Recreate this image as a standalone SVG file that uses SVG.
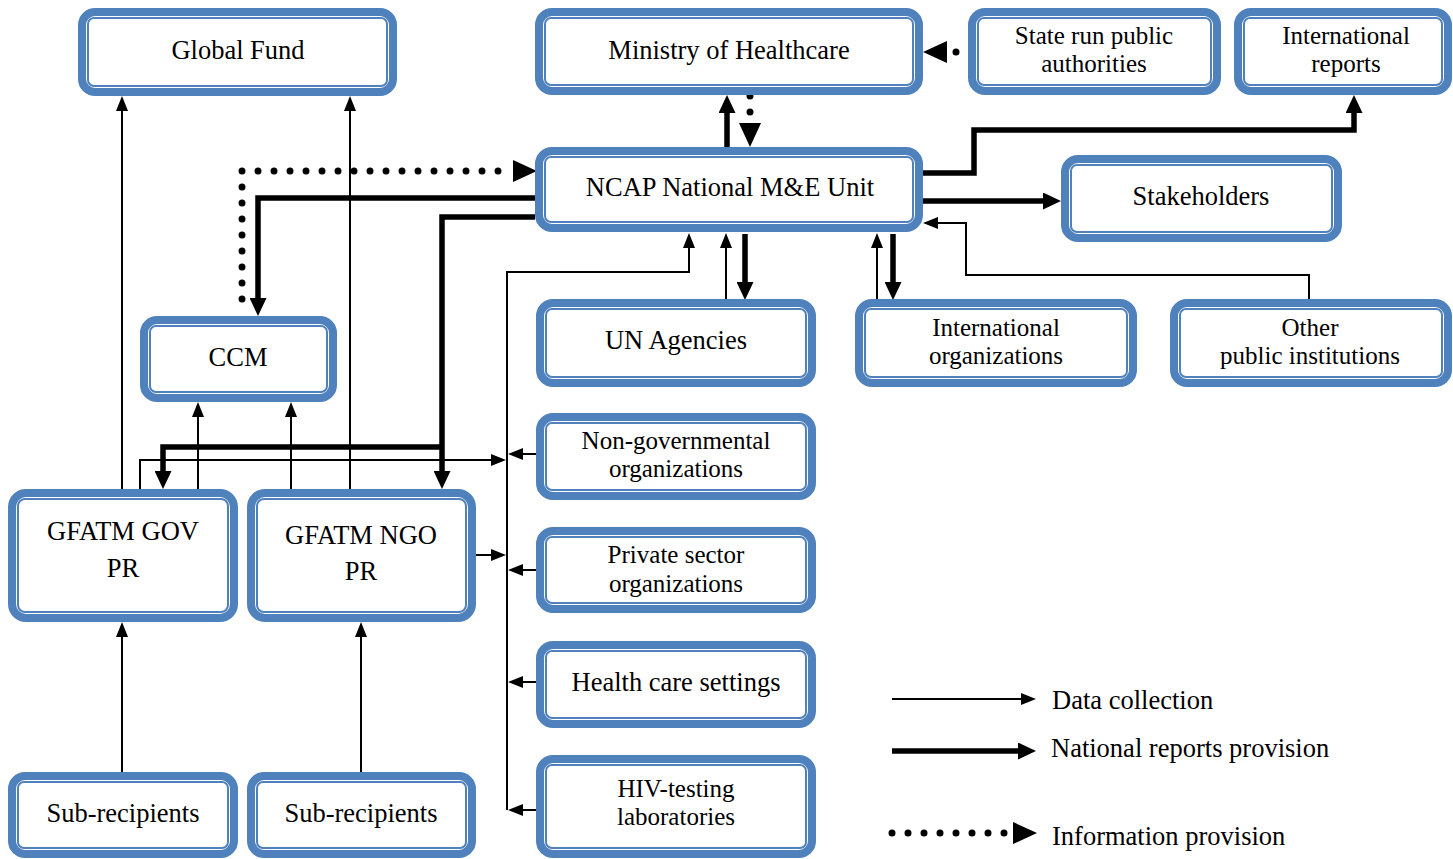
<svg xmlns="http://www.w3.org/2000/svg" width="1453" height="859" viewBox="0 0 1453 859">
<style>
.ob{fill:#fff;stroke:#4F81BD;stroke-width:8}
.ib{fill:none;stroke:#4F81BD;stroke-width:2}
text{font-family:"Liberation Serif","Times New Roman",serif;font-size:26.5px;fill:#000;text-anchor:middle}
text.two{font-size:25px}
.lg{text-anchor:start}
.thin{fill:none;stroke:#000;stroke-width:2;marker-end:url(#aThin)}
.thick{fill:none;stroke:#000;stroke-width:5.5;marker-end:url(#aThick)}
.dot{fill:none;stroke:#000;stroke-width:7;stroke-dasharray:0 16;stroke-linecap:round;marker-end:url(#aDot)}
</style>
<defs>
<marker id="aThin" markerUnits="userSpaceOnUse" markerWidth="15" markerHeight="12" refX="0" refY="6" orient="auto"><path d="M0,0 L15,6 L0,12 z" fill="#000"/></marker>
<marker id="aThick" markerUnits="userSpaceOnUse" markerWidth="18" markerHeight="17" refX="0" refY="8.5" orient="auto"><path d="M0,0 L18,8.5 L0,17 z" fill="#000"/></marker>
<marker id="aDot" markerUnits="userSpaceOnUse" markerWidth="24" markerHeight="22" refX="0" refY="11" orient="auto"><path d="M0,0 L24,11 L0,22 z" fill="#000"/></marker>
</defs>
<rect width="1453" height="859" fill="#fff"/>

<g id="connectors">
<path class="thin" d="M122 489 V111"/>
<path class="thin" d="M350 489 V111"/>
<path class="thin" d="M198 489 V417"/>
<path class="thin" d="M291 489 V417"/>
<path class="thin" d="M140 489 V460 H491"/>
<path class="thin" d="M507 810 V272 H689 V248"/>
<path class="thin" d="M536 454 H523"/>
<path class="thin" d="M536 570 H523"/>
<path class="thin" d="M536 682 H523"/>
<path class="thin" d="M536 810 H523"/>
<path class="thin" d="M476 555 H491"/>
<path class="thin" d="M726 299 V248"/>
<path class="thin" d="M877 299 V248"/>
<path class="thin" d="M1309 299 V275 H966 V223 H938"/>
<path class="thin" d="M122 772 V637"/>
<path class="thin" d="M361 772 V637"/>

<path class="thick" d="M727 147 V113"/>
<path class="thick" d="M535 198 H258 V298"/>
<path class="thick" d="M535 217 H442 V471"/>
<path class="thick" d="M442 447 H163 V471"/>
<path class="thick" d="M923 201 H1043"/>
<path class="thick" d="M923 173 H974 V130 H1354 V113"/>
<path class="thick" d="M745 234 V282"/>
<path class="thick" d="M893 234 V282"/>

<path class="dot" d="M242 299 V171 H513"/>
<path class="dot" d="M750 96 V123"/>
<path class="dot" d="M956 52 H947"/>
</g>

<g id="n-globalfund"><rect class="ob" x="82" y="12" width="311" height="80" rx="13"/><rect class="ib" x="88" y="18" width="299" height="68" rx="6"/><text x="238" y="59">Global Fund</text></g>
<g id="n-ministry"><rect class="ob" x="539" y="12" width="380" height="79" rx="13"/><rect class="ib" x="545" y="18" width="368" height="67" rx="6"/><text x="729" y="59">Ministry of Healthcare</text></g>
<g id="n-state"><rect class="ob" x="972" y="12" width="245" height="79" rx="13"/><rect class="ib" x="978" y="18" width="233" height="67" rx="6"/><text class="two" x="1094" y="44">State run public<tspan x="1094" dy="28">authorities</tspan></text></g>
<g id="n-intreports"><rect class="ob" x="1238" y="12" width="210" height="79" rx="13"/><rect class="ib" x="1244" y="18" width="198" height="67" rx="6"/><text class="two" x="1346" y="44">International<tspan x="1346" dy="28">reports</tspan></text></g>
<g id="n-ncap"><rect class="ob" x="539" y="151" width="380" height="77" rx="13"/><rect class="ib" x="545" y="157" width="368" height="65" rx="6"/><text x="730" y="196">NCAP National M&amp;E Unit</text></g>
<g id="n-stakeholders"><rect class="ob" x="1065" y="159" width="273" height="79" rx="13"/><rect class="ib" x="1071" y="165" width="261" height="67" rx="6"/><text x="1201" y="205">Stakeholders</text></g>
<g id="n-ccm"><rect class="ob" x="144" y="320" width="189" height="78" rx="13"/><rect class="ib" x="150" y="326" width="177" height="66" rx="6"/><text x="238" y="366">CCM</text></g>
<g id="n-un"><rect class="ob" x="540" y="303" width="272" height="80" rx="13"/><rect class="ib" x="546" y="309" width="260" height="68" rx="6"/><text x="676" y="349">UN Agencies</text></g>
<g id="n-intorgs"><rect class="ob" x="859" y="303" width="274" height="80" rx="13"/><rect class="ib" x="865" y="309" width="262" height="68" rx="6"/><text class="two" x="996" y="336">International<tspan x="996" dy="28">organizations</tspan></text></g>
<g id="n-otherpublic"><rect class="ob" x="1174" y="303" width="274" height="80" rx="13"/><rect class="ib" x="1180" y="309" width="262" height="68" rx="6"/><text class="two" x="1310" y="336">Other<tspan x="1310" dy="28">public institutions</tspan></text></g>
<g id="n-ngos"><rect class="ob" x="540" y="417" width="272" height="79" rx="13"/><rect class="ib" x="546" y="423" width="260" height="67" rx="6"/><text class="two" x="676" y="449">Non-governmental<tspan x="676" dy="28">organizations</tspan></text></g>
<g id="n-private"><rect class="ob" x="540" y="531" width="272" height="78" rx="13"/><rect class="ib" x="546" y="537" width="260" height="66" rx="6"/><text class="two" x="676" y="563">Private sector<tspan x="676" dy="29">organizations</tspan></text></g>
<g id="n-healthcare"><rect class="ob" x="540" y="645" width="272" height="79" rx="13"/><rect class="ib" x="546" y="651" width="260" height="67" rx="6"/><text x="676" y="691">Health care settings</text></g>
<g id="n-hiv"><rect class="ob" x="540" y="759" width="272" height="95" rx="13"/><rect class="ib" x="546" y="765" width="260" height="83" rx="6"/><text class="two" x="676" y="797">HIV-testing<tspan x="676" dy="28">laboratories</tspan></text></g>
<g id="n-govpr"><rect class="ob" x="12" y="493" width="222" height="125" rx="14"/><rect class="ib" x="18" y="499" width="210" height="113" rx="7"/><text x="123" y="540">GFATM GOV<tspan x="123" dy="37">PR</tspan></text></g>
<g id="n-ngopr"><rect class="ob" x="251" y="493" width="221" height="125" rx="14"/><rect class="ib" x="257" y="499" width="209" height="113" rx="7"/><text x="361" y="544">GFATM NGO<tspan x="361" dy="36">PR</tspan></text></g>
<g id="n-sr1"><rect class="ob" x="12" y="776" width="222" height="78" rx="13"/><rect class="ib" x="18" y="782" width="210" height="66" rx="6"/><text x="123" y="822">Sub-recipients</text></g>
<g id="n-sr2"><rect class="ob" x="251" y="776" width="221" height="78" rx="13"/><rect class="ib" x="257" y="782" width="209" height="66" rx="6"/><text x="361" y="822">Sub-recipients</text></g>

<g id="legend">
<path class="thin" d="M892 699 H1021"/>
<path class="thick" d="M892 751 H1018"/>
<path class="dot" d="M892 833 H1013"/>
<text class="lg" x="1052" y="709">Data collection</text>
<text class="lg" x="1051" y="757">National reports provision</text>
<text class="lg" x="1052" y="845">Information provision</text>
</g>
</svg>
